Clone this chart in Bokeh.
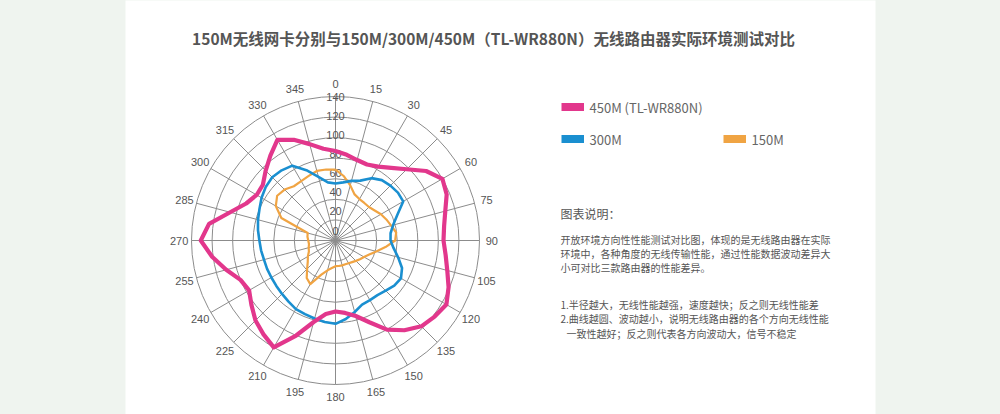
import numpy as np
from bokeh.plotting import figure
from bokeh.models import Range1d
from bokeh.core.properties import value
from bokeh.embed import file_html
from bokeh.resources import INLINE

# ---------------- data ----------------
angles = [i * 7.5 for i in range(48)]  # compass degrees, clockwise from north
s450 = [87, 84, 81, 80, 83, 89, 98, 111, 120, 117, 110.5, 106.5,
        105, 108, 112.5, 119, 124.5, 121.5, 118, 110, 100, 86, 76, 71,
        69, 72, 82, 100, 120, 115, 110, 103, 97, 100, 110, 121,
        131, 124, 106, 94, 88.5, 89, 96, 104, 113, 106, 97, 90]
s300 = [55.5, 57, 60, 63, 70, 74, 75.5, 76.5, 76, 65, 58, 54,
        53.5, 57, 63, 70, 73.5, 72, 69, 67, 67, 67.5, 72, 77,
        81, 80, 78.5, 77.5, 77, 75, 73.5, 72.5, 72, 72, 72, 73,
        74, 76, 78, 80, 83, 85.5, 87, 86, 84, 74, 64, 57]
s150 = [69, 63, 55.5, 48.5, 46.5, 46, 46, 48, 51, 53.5, 56, 59.5,
        58, 49, 41, 35.5, 32, 30, 28, 26.5, 25.5, 25, 25, 25,
        25, 27, 30, 36, 49, 46, 39, 34, 31, 28, 27, 26,
        26.5, 27.5, 28, 57, 67, 71.5, 70, 66.5, 66.7, 68, 70, 69.6]
series_names = ["450M (TL-WR880N)", "300M", "150M"]
series_colors = ["#e2378c", "#1a8fd0", "#f0a443"]
series_widths = [4.2, 2.6, 2.2]
ring_values = [20, 40, 60, 80, 100, 120, 140]
radial_labels = ["0", "20", "40", "60", "80", "100", "120", "140"]
spoke_angles = list(range(0, 360, 15))
spoke_labels = [str(a) for a in spoke_angles]

title = "150M无线网卡分别与150M/300M/450M（TL-WR880N）无线路由器实际环境测试对比"
desc_head = "图表说明："
desc_lines = ["开放环境方向性性能测试对比图，体现的是无线路由器在实际",
              "环境中，各种角度的无线传输性能，通过性能数据波动差异大",
              "小可对比三款路由器的性能差异。"]
note_lines = ["1.半径越大，无线性能越强，速度越快；反之则无线性能差",
              "2.曲线越圆、波动越小，说明无线路由器的各个方向无线性能",
              "一致性越好；反之则代表各方向波动大，信号不稳定"]

# ---------------- layout ----------------
OX, OY = 0, 0               # page offset of the canvas (template sets margin 0)
W, H = 1000, 414
CX, CY = 335, 240           # centre of polar area (page px)
K = 144.0 / 140.0           # px per value unit
BG = "#eff4ef"
GRID = "#8c8c8c"
TXT = "#555555"


def X(sx):
    return (sx - CX) / K


def Y(sy):
    return (CY - sy) / K


p = figure(width=W, height=H, output_backend="svg", toolbar_location=None,
           x_range=Range1d(X(OX), X(OX + W)), y_range=Range1d(Y(OY + H), Y(OY)),
           min_border=0, min_border_left=0, min_border_right=0,
           min_border_top=0, min_border_bottom=0)
p.axis.visible = False
p.grid.visible = False
p.outline_line_color = None
p.background_fill_color = BG
p.border_fill_color = BG

# white panel
p.quad(left=X(125), right=X(875), bottom=Y(430), top=Y(-20),
       fill_color="white", line_color=None)

# rings and spokes
p.circle(x=[0] * len(ring_values), y=[0] * len(ring_values), radius=ring_values,
         fill_color=None, line_color=GRID, line_width=1)
th = np.radians(spoke_angles)
rmax = ring_values[-1]
p.segment(x0=0, y0=0, x1=rmax * np.sin(th), y1=rmax * np.cos(th),
          line_color=GRID, line_width=1)

# angle labels
rl = 152
p.text(x=rl * np.sin(th), y=rl * np.cos(th), text=spoke_labels,
       text_align="center", text_baseline="middle", text_font_size="11px",
       text_color=TXT, text_font=value("Liberation Sans"))

# radial labels
rv = np.array([float(t) for t in radial_labels])
p.text(x=[0] * len(rv), y=rv + (10 - 10 * rv / 140) / K, text=radial_labels,
       text_align="center", text_baseline="middle", text_font_size="11px",
       text_color=TXT, text_font=value("Liberation Sans"))

# curves
a = np.radians(angles + [angles[0]])
for vals, col, lw in [(s150, series_colors[2], series_widths[2]),
                      (s300, series_colors[1], series_widths[1]),
                      (s450, series_colors[0], series_widths[0])]:
    r = np.array(vals + [vals[0]], dtype=float)
    p.line(x=r * np.sin(a), y=r * np.cos(a), line_color=col, line_width=lw,
           line_join="round")

# title
p.text(x=[X(493)], y=[Y(37)], text=[title], text_align="center",
       text_baseline="middle", text_font_size="15.5px", text_font_style="bold",
       text_color=TXT, text_font=value("Noto Sans CJK SC"))

# legend
leg = [(561, 106.5, 0), (561, 138.5, 1), (723, 138.5, 2)]
for sx, sy, i in leg:
    p.quad(left=X(sx), right=X(sx + 22.5), bottom=Y(sy + 4), top=Y(sy - 4),
           fill_color=series_colors[i], line_color=None)
    p.text(x=[X(sx + 28)], y=[Y(sy)], text=[series_names[i]], text_align="left",
           text_baseline="middle", text_font_size="13px", text_color="#666666",
           text_font=value("Noto Sans CJK SC"))

# description
p.text(x=[X(560)], y=[Y(213)], text=[desc_head], text_align="left",
       text_baseline="middle", text_font_size="12px", text_color=TXT,
       text_font=value("Noto Sans CJK SC"))
ys = [239, 253, 266.7]
p.text(x=[X(560)] * 3, y=[Y(v) for v in ys], text=desc_lines, text_align="left",
       text_baseline="middle", text_font_size="10px", text_color=TXT,
       text_font=value("Noto Sans CJK SC"))
ys2 = [304.3, 318, 332.7]
xs2 = [560, 560, 566]
p.text(x=[X(v) for v in xs2], y=[Y(v) for v in ys2], text=note_lines, text_align="left",
       text_baseline="middle", text_font_size="10px", text_color=TXT,
       text_font=value("Noto Sans CJK SC"))

html = file_html(p, INLINE)
html = html.replace("</head>", "<style>body{background:%s;}</style></head>" % BG, 1)
open("out.html", "w").write(html)
